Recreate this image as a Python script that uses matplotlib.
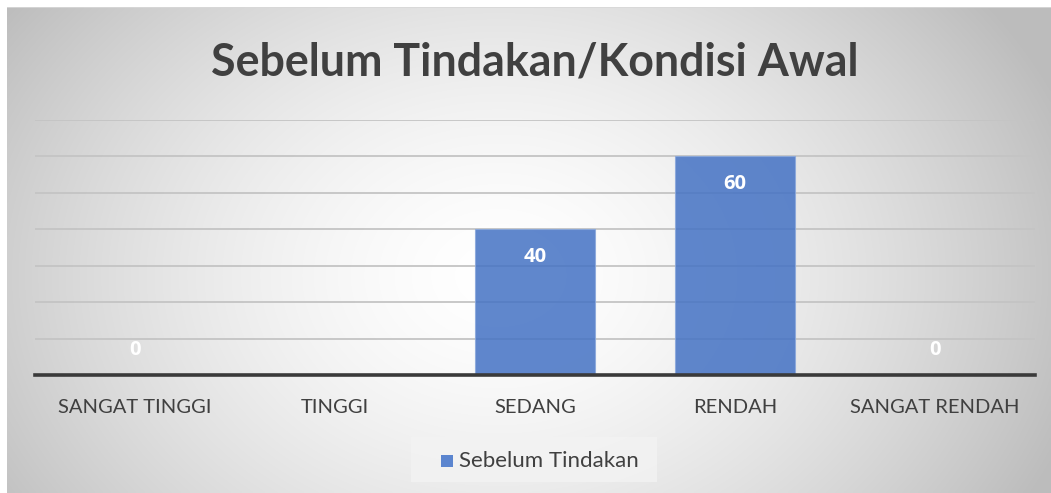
import numpy as np
import matplotlib
matplotlib.use("Agg")
import matplotlib.pyplot as plt
from matplotlib.patches import Rectangle

categories = ["SANGAT TINGGI", "TINGGI", "SEDANG", "RENDAH", "SANGAT RENDAH"]
values = [0, np.nan, 40, 60, 0]
series_name = "Sebelum Tindakan"
title = "Sebelum Tindakan/Kondisi Awal"

W, H = 1051, 493
fig = plt.figure(figsize=(W / 100, H / 100), dpi=100)
fig.patch.set_facecolor("white")

# background radial gradient panel
bg = fig.add_axes([7 / W, 0, 1 - 7 / W, 1 - 7 / H])
bg.set_axis_off()
ny, nx = 200, 420
yy, xx = np.mgrid[0:ny, 0:nx]
cx, cy = nx * 0.47, ny * 0.55
r = np.sqrt(((xx - cx) / (nx * 0.55)) ** 2 + ((yy - cy) / (ny * 0.9)) ** 2)
v = 1.0 - 0.24 * np.clip(r, 0, 1.2) ** 1.6
v = np.clip(v, 0.74, 1.0)
img = np.dstack([v, v, v])
bg.imshow(img, aspect="auto", extent=[0, 1, 0, 1], origin="upper", interpolation="bilinear")
bg.set_xlim(0, 1)
bg.set_ylim(0, 1)
bg.plot([0, 1], [0.999, 0.999], color="#d8d8d8", lw=1.2, transform=bg.transAxes)

ax = fig.add_axes([35 / W, 118 / H, 1000 / W, 255 / H])
ax.patch.set_alpha(0)
x = np.arange(len(categories))
vals = np.array(values, dtype=float)
bars = ax.bar(x, np.nan_to_num(vals), width=0.6, color="#4472C4", alpha=0.85,
              edgecolor="#8aa8dc", linewidth=0.8, zorder=3)
ax.set_xlim(-0.5, len(categories) - 0.5)
ax.set_ylim(0, 70)
ax.set_yticks(np.arange(10, 71, 10))
ax.yaxis.grid(True, color="#c4c4c4", lw=1.3, zorder=1)
ax.set_axisbelow(True)
ax.tick_params(axis="y", left=False, labelleft=False)
ax.tick_params(axis="x", length=0, pad=17)
ax.set_xticks(x)
ax.set_xticklabels(categories, fontsize=14.5, color="#404040", family="Lato")
for s in ["top", "right", "left"]:
    ax.spines[s].set_visible(False)
ax.spines["bottom"].set_color("#3a3a3a")
ax.spines["bottom"].set_linewidth(2.6)
ax.spines["bottom"].set_zorder(5)

for xi, val in zip(x, vals):
    if np.isnan(val):
        continue
    off = -20 if val > 0 else 18
    ax.annotate(f"{int(val)}", (xi, val), xytext=(0, off), textcoords="offset points",
                ha="center", va="center", color="white", fontsize=14.5,
                fontweight="bold", family="Open Sans", zorder=6)

fig.text(535 / W, 1 - 62 / H, title, ha="center", va="center", fontsize=32.2,
         fontweight="bold", color="#404040", family="Lato")

# legend
lx0, ly0, lw_, lh_ = 411, 437, 246, 45
fig.patches.append(Rectangle((lx0 / W, 1 - (ly0 + lh_) / H), lw_ / W, lh_ / H,
                             transform=fig.transFigure, facecolor="#f3f3f3",
                             edgecolor="none", alpha=0.8, zorder=1))
fig.patches.append(Rectangle((441 / W, 1 - 467 / H), 12 / W, 12 / H,
                             transform=fig.transFigure, facecolor="#5b85cf",
                             edgecolor="none", zorder=2))
fig.text(459 / W, 1 - 461 / H, series_name, ha="left", va="center", fontsize=16,
         color="#404040", family="Lato", zorder=3)

fig.savefig("out.png", dpi=100)
